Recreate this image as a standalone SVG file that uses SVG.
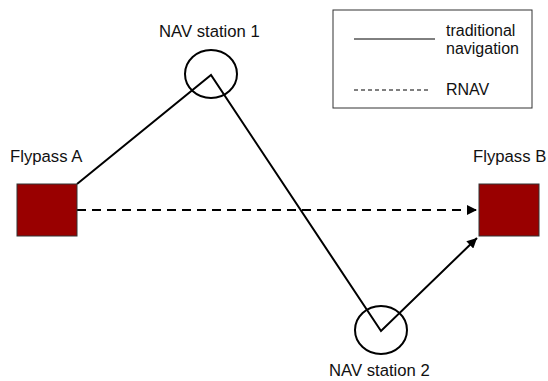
<svg xmlns="http://www.w3.org/2000/svg" width="548" height="381" viewBox="0 0 548 381">
<defs>
<style>
text{font-family:"Liberation Sans",Arial,sans-serif;font-size:16.7px;fill:#111}
.lg{font-size:16px}
.fly{fill:#990000;stroke:#333;stroke-width:1}
.st{fill:none;stroke:#000;stroke-width:2}
.ln{fill:none;stroke:#000;stroke-width:2}
.dash{stroke-dasharray:9 6}
</style>
<marker id="ah" viewBox="0 0 10 10" refX="10" refY="5" markerWidth="5" markerHeight="5" orient="auto" markerUnits="strokeWidth">
<path d="M0,0 L10,5 L0,10 Z" fill="#000"/>
</marker>
</defs>
<rect width="548" height="381" fill="#fff"/>
<g id="legend">
<rect x="333" y="10" width="199" height="98" fill="#fff" stroke="#333" stroke-width="1"/>
<line x1="354" y1="39" x2="435" y2="39" stroke="#000" stroke-width="1"/>
<line x1="354" y1="90" x2="431" y2="90" stroke="#000" stroke-width="1" stroke-dasharray="4 3"/>
<text class="lg" x="446" y="36">traditional</text>
<text class="lg" x="446" y="54">navigation</text>
<text class="lg" x="446" y="95">RNAV</text>
</g>
<g id="connectors">
<line class="ln dash" x1="77" y1="210" x2="477" y2="210" marker-end="url(#ah)"/>
<polyline class="ln" points="77,184 211,75 381,331 477,238" marker-end="url(#ah)"/>
</g>
<g id="flypassA">
<rect class="fly" x="17" y="184" width="60" height="52"/>
<text x="10" y="162">Flypass A</text>
</g>
<g id="flypassB">
<rect class="fly" x="479" y="184" width="60" height="52"/>
<text x="473" y="162">Flypass B</text>
</g>
<g id="nav1">
<ellipse class="st" cx="211" cy="74" rx="26" ry="24"/>
<text x="159" y="37">NAV station 1</text>
</g>
<g id="nav2">
<ellipse class="st" cx="381" cy="330" rx="26" ry="24"/>
<text x="329" y="376">NAV station 2</text>
</g>
</svg>
